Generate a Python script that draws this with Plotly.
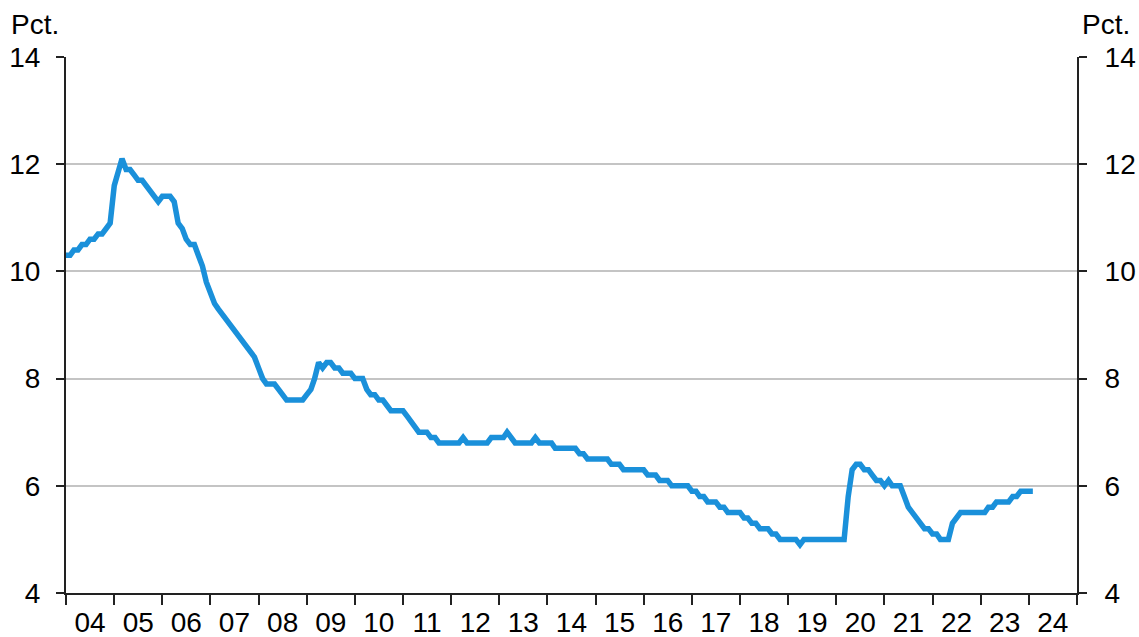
import pandas as pd
import plotly.graph_objects as go

start_month = "2004-01-01"
values = [
    # 2004
    10.3, 10.3, 10.4, 10.4, 10.5, 10.5, 10.6, 10.6, 10.7, 10.7, 10.8, 10.9,
    # 2005
    11.6, 11.9, 12.1, 11.9, 11.9, 11.8, 11.7, 11.7, 11.6, 11.5, 11.4, 11.3,
    # 2006
    11.4, 11.4, 11.4, 11.3, 10.9, 10.8, 10.6, 10.5, 10.5, 10.3, 10.1, 9.8,
    # 2007
    9.6, 9.4, 9.3, 9.2, 9.1, 9.0, 8.9, 8.8, 8.7, 8.6, 8.5, 8.4,
    # 2008
    8.2, 8.0, 7.9, 7.9, 7.9, 7.8, 7.7, 7.6, 7.6, 7.6, 7.6, 7.6,
    # 2009
    7.7, 7.8, 8.0, 8.3, 8.2, 8.3, 8.3, 8.2, 8.2, 8.1, 8.1, 8.1,
    # 2010
    8.0, 8.0, 8.0, 7.8, 7.7, 7.7, 7.6, 7.6, 7.5, 7.4, 7.4, 7.4,
    # 2011
    7.4, 7.3, 7.2, 7.1, 7.0, 7.0, 7.0, 6.9, 6.9, 6.8, 6.8, 6.8,
    # 2012
    6.8, 6.8, 6.8, 6.9, 6.8, 6.8, 6.8, 6.8, 6.8, 6.8, 6.9, 6.9,
    # 2013
    6.9, 6.9, 7.0, 6.9, 6.8, 6.8, 6.8, 6.8, 6.8, 6.9, 6.8, 6.8,
    # 2014
    6.8, 6.8, 6.7, 6.7, 6.7, 6.7, 6.7, 6.7, 6.6, 6.6, 6.5, 6.5,
    # 2015
    6.5, 6.5, 6.5, 6.5, 6.4, 6.4, 6.4, 6.3, 6.3, 6.3, 6.3, 6.3,
    # 2016
    6.3, 6.2, 6.2, 6.2, 6.1, 6.1, 6.1, 6.0, 6.0, 6.0, 6.0, 6.0,
    # 2017
    5.9, 5.9, 5.8, 5.8, 5.7, 5.7, 5.7, 5.6, 5.6, 5.5, 5.5, 5.5,
    # 2018
    5.5, 5.4, 5.4, 5.3, 5.3, 5.2, 5.2, 5.2, 5.1, 5.1, 5.0, 5.0,
    # 2019
    5.0, 5.0, 5.0, 4.9, 5.0, 5.0, 5.0, 5.0, 5.0, 5.0, 5.0, 5.0,
    # 2020
    5.0, 5.0, 5.0, 5.8, 6.3, 6.4, 6.4, 6.3, 6.3, 6.2, 6.1, 6.1,
    # 2021
    6.0, 6.1, 6.0, 6.0, 6.0, 5.8, 5.6, 5.5, 5.4, 5.3, 5.2, 5.2,
    # 2022
    5.1, 5.1, 5.0, 5.0, 5.0, 5.3, 5.4, 5.5, 5.5, 5.5, 5.5, 5.5,
    # 2023
    5.5, 5.5, 5.6, 5.6, 5.7, 5.7, 5.7, 5.7, 5.8, 5.8, 5.9, 5.9,
    # 2024
    5.9, 5.9,
]
years = list(range(2004, 2025))
year_labels = [f"{y % 100:02d}" for y in years]
y_ticks = [4, 6, 8, 10, 12, 14]

dates = pd.date_range(start_month, periods=len(values), freq="MS")
label_pos = [f"{y}-07-02" for y in years]

FONT = "Liberation Sans, Arial, sans-serif"
FS = 28

fig = go.Figure()
fig.add_trace(go.Scatter(x=dates, y=values, mode="lines",
                         line=dict(color="#1a90da", width=5.5),
                         showlegend=False))
# invisible trace for right axis
fig.add_trace(go.Scatter(x=dates[:1], y=values[:1], yaxis="y2", mode="lines",
                         line=dict(width=0), showlegend=False, hoverinfo="skip"))

fig.update_layout(
    width=1139, height=637,
    margin=dict(l=66, r=62, t=57, b=44),
    paper_bgcolor="white", plot_bgcolor="white",
    font=dict(family=FONT, size=FS, color="black"),
    xaxis=dict(
        type="date", range=["2004-01-01", "2025-01-01"],
        tickmode="array", tickvals=label_pos, ticktext=year_labels,
        ticks="", showgrid=False, showline=True, linecolor="#222", linewidth=2,
        ticklabelstandoff=3, automargin=False,
        minor=dict(ticks="outside", ticklen=10, tickwidth=2, tickcolor="#222",
                   tick0="2004-01-01", dtick="M12", showgrid=False),
        zeroline=False,
    ),
    yaxis=dict(
        range=[4, 14], tickvals=y_ticks, ticks="outside", ticklen=8, tickwidth=2,
        tickcolor="#222", showline=True, linecolor="#222", linewidth=2,
        showgrid=True, gridcolor="#c4c4c4", gridwidth=1.5, zeroline=False,
        ticklabelstandoff=10, automargin=False,
    ),
    yaxis2=dict(
        range=[4, 14], tickvals=y_ticks, ticks="outside", ticklen=8, tickwidth=2,
        tickcolor="#222", showline=True, linecolor="#222", linewidth=2,
        overlaying="y", side="right", showgrid=False, zeroline=False,
        ticklabelstandoff=12, automargin=False,
    ),
    annotations=[
        dict(text="Pct.", xref="paper", yref="paper", x=-0.056, y=1.0,
             xanchor="left", yanchor="bottom", yshift=15, showarrow=False,
             font=dict(size=FS)),
        dict(text="Pct.", xref="paper", yref="paper", x=1.0545, y=1.0,
             xanchor="right", yanchor="bottom", yshift=15, showarrow=False,
             font=dict(size=FS)),
    ],
)

fig.write_html("out.html", config={"displayModeBar": False},
               post_script="document.body.style.margin='0';document.body.style.overflow='hidden';")
